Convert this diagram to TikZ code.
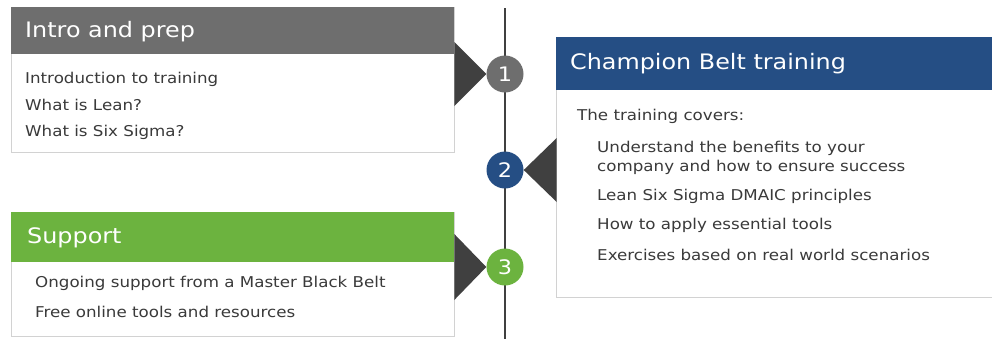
\documentclass[tikz,border=0pt]{standalone}
\usepackage{fontspec}
\setmainfont[FakeStretch=1.12]{DejaVu Sans}
\definecolor{greyhead}{HTML}{6E6E6E}
\definecolor{bluehead}{HTML}{254E84}
\definecolor{greenhead}{HTML}{6CB33F}
\definecolor{darkline}{HTML}{404040}
\definecolor{boxline}{HTML}{D2D2D2}
\definecolor{bodytext}{HTML}{3A3A3A}

\begin{document}
\begin{tikzpicture}[x=1pt,y=-1pt,
  panel/.style={draw=boxline,fill=white,line width=0.9pt,anchor=north west,inner sep=0},
  head/.style={fill=#1,anchor=north west,inner sep=0},
  headtext/.style={text=white,anchor=west,inner sep=0,font=\fontsize{21.3}{25}\selectfont},
  item/.style={text=bodytext,anchor=west,inner sep=0,font=\fontsize{14.9}{18}\selectfont},
  num/.style={circle,fill=#1,text=white,minimum size=37pt,inner sep=0,font=\fontsize{20}{22}\selectfont},
  pointer/.style={fill=darkline}]
\useasboundingbox (0,0) rectangle (992,338);
\coordinate (top) at (505,8);
\coordinate (bottom) at (505,340);
\draw[darkline,line width=2.8pt] (top) -- (bottom);

% intro and prep
\node[panel,minimum width=443,minimum height=145] (intro) at (11,7) {};
\node[head=greyhead,minimum width=443,minimum height=47] (introhead) at (intro.north west) {};
\node[headtext] (introtitle) at (25,31.5) {Intro and prep};
\node[item] (i1) at (25,79) {Introduction to training};
\node[item] (i2) at (25,105) {What is Lean?};
\node[item] (i3) at (25,132) {What is Six Sigma?};

% champion belt training
\node[panel,minimum width=440,minimum height=260] (champ) at (556,37) {};
\node[head=bluehead,minimum width=440,minimum height=53] (champhead) at (champ.north west) {};
\node[headtext] (champtitle) at (570,64) {Champion Belt training};
\node[item] (cintro) at (577,116) {The training covers:};
\node[item] (c1) at (597,148) {Understand the benefits to your};
\node[item] (c1b) at (597,167) {company and how to ensure success};
\node[item] (c2) at (597,196) {Lean Six Sigma DMAIC principles};
\node[item] (c3) at (597,225) {How to apply essential tools};
\node[item] (c4) at (597,255) {Exercises based on real world scenarios};

% support
\node[panel,minimum width=443,minimum height=124] (support) at (11,212) {};
\node[head=greenhead,minimum width=443,minimum height=50] (supporthead) at (support.north west) {};
\node[headtext] (supporttitle) at (27,237.5) {Support};
\node[item] (s1) at (35,283) {Ongoing support from a Master Black Belt};
\node[item] (s2) at (35,312) {Free online tools and resources};

% steps on the line
\node[num=greyhead] (n1) at (505,74) {1};
\node[num=bluehead] (n2) at (505,170) {2};
\node[num=greenhead] (n3) at (505,267) {3};
\fill[pointer] (n1.west) -- ++(-32,-32) -- ++(0,64) -- cycle;
\fill[pointer] (n2.east) -- ++(33,-32) -- ++(0,64) -- cycle;
\fill[pointer] (n3.west) -- ++(-32,-33) -- ++(0,66) -- cycle;
\end{tikzpicture}
\end{document}
